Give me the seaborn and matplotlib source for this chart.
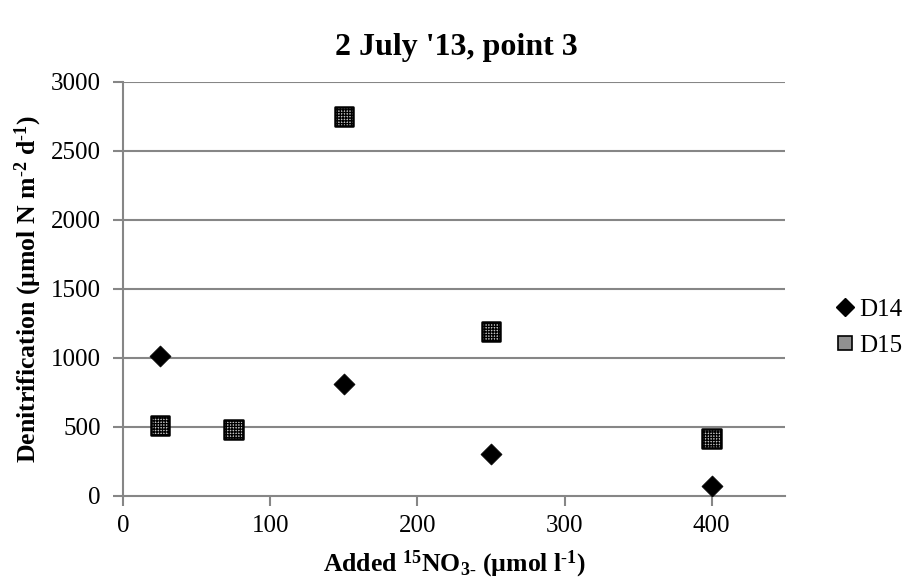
import matplotlib
matplotlib.use("Agg")
import matplotlib.pyplot as plt
import seaborn as sns
import pandas as pd
from matplotlib.lines import Line2D

# Data
series_names = ["D14", "D15"]
x_d14 = [25, 150, 250, 400]
y_d14 = [1015, 813, 300, 70]
x_d15 = [25, 75, 150, 250, 400]
y_d15 = [510, 481, 2750, 1193, 415]
x_ticks = [0, 100, 200, 300, 400]
y_ticks = [0, 500, 1000, 1500, 2000, 2500, 3000]
title = "2 July '13, point 3"

sns.set_theme(style="white")
plt.rcParams['font.family'] = ['Liberation Serif', 'DejaVu Serif']
plt.rcParams['mathtext.fontset'] = 'custom'
plt.rcParams['mathtext.rm'] = 'Liberation Serif'
plt.rcParams['mathtext.bf'] = 'Liberation Serif:bold'
plt.rcParams['mathtext.it'] = 'Liberation Serif:italic'
plt.rcParams['text.color'] = 'black'
plt.rcParams['axes.labelcolor'] = 'black'
plt.rcParams['hatch.linewidth'] = 0.9
plt.rcParams['hatch.color'] = '#505050'

df = pd.DataFrame({
    "x": x_d14 + x_d15,
    "y": y_d14 + y_d15,
    "series": [series_names[0]] * len(x_d14) + [series_names[1]] * len(x_d15),
})

fig = plt.figure(figsize=(9.12, 5.8), dpi=100)
ax = fig.add_axes([0.135, 0.145, 0.726, 0.714])

grid_c = "#868686"
for yt in y_ticks[1:]:
    ax.axhline(yt, color=grid_c, lw=1.5, zorder=0)

d14 = df[df.series == "D14"]
d15 = df[df.series == "D15"]
sns.scatterplot(data=d14, x="x", y="y", marker="D", s=115, color="black",
                edgecolor="black", linewidth=0.5, ax=ax, zorder=3, legend=False)
n_before = len(ax.collections)
sns.scatterplot(data=d15, x="x", y="y", marker="s", s=180, color="#c4c4c4",
                edgecolor="black", linewidth=1.8, ax=ax, zorder=3, legend=False)
sq = ax.collections[n_before]
sq.set_hatch("++++++")

ax.set_xlim(0, 450)
ax.set_ylim(0, 3000)
ax.set_xticks(x_ticks)
ax.set_yticks(y_ticks)
ax.tick_params(axis="both", labelsize=18, colors="black", length=7, width=1.5,
               direction="out", color=grid_c)
ax.tick_params(axis="x", bottom=True, pad=7)
ax.tick_params(axis="y", left=True, pad=9)
for side in ["top", "right"]:
    ax.spines[side].set_visible(False)
for side in ["left", "bottom"]:
    ax.spines[side].set_color(grid_c)
    ax.spines[side].set_linewidth(1.5)

ax.set_xlabel(r"Added $^{\mathbf{15}}$NO$_{\mathbf{3\text{-}}}$ (µmol l$^{\mathbf{\text{-}1}}$)",
              fontsize=18.5, fontweight="bold", labelpad=8)
ax.set_ylabel(r"Denitrification (µmol N m$^{\mathbf{\text{-}2}}$ d$^{\mathbf{\text{-}1}}$)",
              fontsize=18.5, fontweight="bold", labelpad=5)
fig.text(0.5, 0.918, title, ha="center", va="center", fontsize=23, fontweight="bold")

handles = [
    Line2D([], [], marker="D", ls="none", color="black", markersize=9, label="D14"),
    Line2D([], [], marker="s", ls="none", markerfacecolor="#909090",
           markeredgecolor="black", markeredgewidth=1.2, markersize=10, label="D15"),
]
fig.legend(handles=handles, loc="center left", bbox_to_anchor=(0.912, 0.435),
           frameon=False, fontsize=18, handletextpad=0.0, labelspacing=0.55,
           handlelength=1.1, borderaxespad=0, borderpad=0)

fig.savefig("out.png", dpi=100)
